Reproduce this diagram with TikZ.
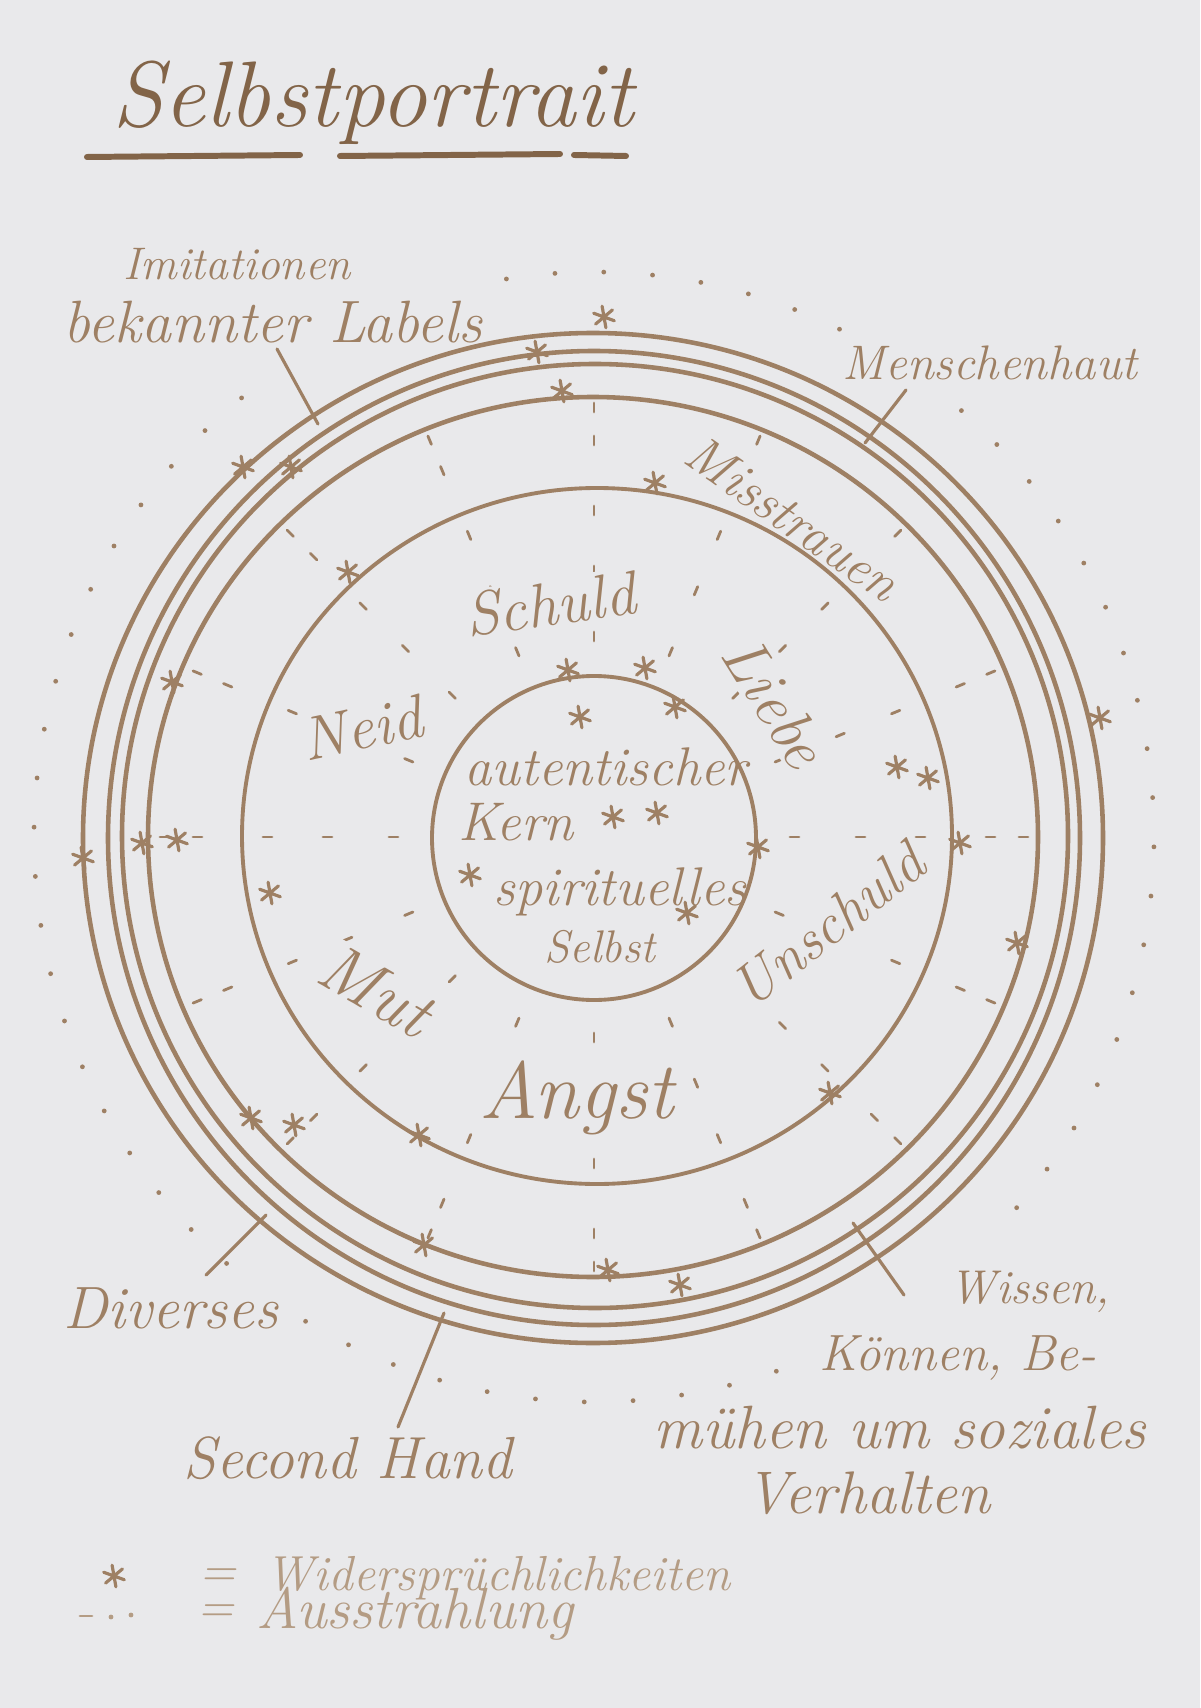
\documentclass[tikz,border=0pt]{standalone}
\usetikzlibrary{calc}
\definecolor{paper}{RGB}{233,233,235}
\definecolor{ink}{RGB}{158,128,100}
\definecolor{darkink}{RGB}{130,100,72}
\definecolor{paleink}{RGB}{180,156,132}
\newcommand{\hand}[1]{\fontsize{#1}{#1}\selectfont\itshape}
\newcommand{\stern}[2]{\draw [sternlinie] (#1,#2) +(20:11) -- +(200:11) +(80:11) -- +(260:11) +(140:11) -- +(320:11);}
\tikzstyle{schrift} = [text=ink, inner sep=1pt, fill=paper]
\tikzstyle{legende} = [text=paleink, inner sep=0pt]
\tikzstyle{ring} = [draw=ink, line width=1.3pt]
\tikzstyle{innenring} = [draw=ink, line width=1.1pt]
\tikzstyle{zeiger} = [draw=ink, line width=0.9pt, line cap=round]
\tikzstyle{strahl} = [draw=ink, line width=0.8pt, line cap=round]
\tikzstyle{sternlinie} = [draw=ink, line width=0.9pt, line cap=round]
\tikzstyle{punkt} = [fill=ink]

\begin{document}
\begin{tikzpicture}[x=0.1mm, y=-0.1mm]
  \fill [paper] (0,0) rectangle (1200,1708);
  \coordinate (mitte) at (594,837);

  % Ausstrahlung
  \foreach \a in {-90,-67.5,...,247.5}
    \foreach \r in {196,262,322,392,425}
      \draw [strahl] ($(mitte)+(\a:\r)$) -- ($(mitte)+(\a:\r+9)$);
  \foreach \a in {-99,-94,...,44}
    \fill [punkt] ($(mitte)+(\a:560 and 565)$) circle [radius=2.4];
  \foreach \a in {66,71,...,231}
    \fill [punkt] ($(mitte)+(\a:560 and 565)$) circle [radius=2.4];

  % Beschriftung
  \node (titel) [schrift, text=darkink, anchor=base, font=\hand{26.5}] at (373,127) {Selbstportrait};
  \node (imit1) [schrift, anchor=base, font=\hand{13}] at (237,280) {Imitationen};
  \node (imit2) [schrift, anchor=base, font=\hand{17}] at (273,343) {bekannter Labels};
  \node (haut) [schrift, anchor=base, font=\hand{13.8}] at (990,380) {Menschenhaut};
  \node (miss) [schrift, rotate=-35, font=\hand{15}] at (793,518) {Misstrauen};
  \node (schuld) [schrift, anchor=base, rotate=8, font=\hand{17.5}] at (553,625) {Schuld};
  \node (neid) [schrift, rotate=12, font=\hand{17.5}] at (362,728) {Neid};
  \node (liebe) [schrift, rotate=-58, font=\hand{18}] at (775,702) {Liebe};
  \node (aut) [schrift, anchor=base, font=\hand{15.5}] at (606,785) {autentischer};
  \node (kern) [schrift, anchor=base, font=\hand{15.5}] at (516,840) {Kern};
  \node (spir) [schrift, anchor=base, font=\hand{15.5}] at (620,905) {spirituelles};
  \node (selbst) [schrift, anchor=base, font=\hand{13}] at (600,962) {Selbst};
  \node (unschuld) [schrift, rotate=38, font=\hand{16.5}] at (828,925) {Unschuld};
  \node (mut) [schrift, rotate=-30, font=\hand{19.5}] at (376,990) {Mut};
  \node (angst) [schrift, anchor=base, font=\hand{23}] at (577,1118) {Angst};
  \node (div) [schrift, anchor=base, font=\hand{17}] at (171,1328) {Diverses};
  \node (second) [schrift, anchor=base, font=\hand{16.9}] at (348,1478) {Second Hand};
  \node (wissen) [schrift, anchor=base, font=\hand{13.5}] at (1030,1303) {Wissen,};
  \node (koennen) [schrift, anchor=base, font=\hand{14.5}] at (958,1370) {Können, Be-};
  \node (muehen) [schrift, anchor=base, font=\hand{17.4}] at (900,1448) {mühen um soziales};
  \node (verh) [schrift, anchor=base, font=\hand{17.1}] at (868,1513) {Verhalten};

  % Ringe
  \draw [innenring] (594,838) circle [radius=162];
  \draw [innenring] (597,836) ellipse [x radius=355, y radius=348];
  \draw [ring] (593,837) ellipse [x radius=445, y radius=440];
  \draw [ring] (595,836) ellipse [x radius=473, y radius=472];
  \draw [ring] (594,838) ellipse [x radius=486, y radius=487];
  \draw [ring] (593,838) ellipse [x radius=510, y radius=505];

  % Unterstrich
  \draw [darkink, line width=1.7pt, line cap=round] (87,157) -- (300,155) (340,156) -- (560,154) (574,155) -- (626,156);

  % Widersprueche
  \foreach \x/\y in {604/317, 537/352, 562/391, 243/467, 291/467, 655/483, 348/572,
                     172/682, 83/858, 142/843, 177/840, 270/893,
                     568/670, 645/668, 675/707, 580/717, 613/817, 657/813, 470/875, 687/913, 758/847,
                     1100/718, 897/767, 928/778, 960/843, 1017/943, 830/1093,
                     251/1118, 294/1125, 419/1135, 424/1245, 608/1270, 680/1285}
    {\stern{\x}{\y}}

  % Zeiger
  \coordinate (imitende) at (318,424);
  \coordinate (hautende) at (865,443);
  \coordinate (divende) at (266,1215);
  \coordinate (secondende) at (444,1313);
  \coordinate (wissenende) at (853,1223);
  \draw [zeiger] ($(imit2.base)+(4,6)$) -- (imitende);
  \draw [zeiger] ($(haut.base)+(-84,10)$) -- (hautende);
  \draw [zeiger] ($(div.base)+(35,-53)$) -- (divende);
  \draw [zeiger] ($(second.base)+(50,-51)$) -- (secondende);
  \draw [zeiger] ($(wissen.base)+(-126,-8)$) -- (wissenende);

  % Legende
  \stern{114}{1576}
  \node (gleich1) [legende, anchor=base, font=\hand{14}] at (218,1586) {=};
  \node (leg1) [legende, anchor=base west, font=\hand{14}] at (265,1590) {Widersprüchlichkeiten};
  \draw [strahl, draw=paleink] (80,1616) -- (92,1616);
  \fill [paleink] (111,1617) circle [radius=2.4] (131,1615) circle [radius=2.4];
  \node (gleich2) [legende, anchor=base, font=\hand{14}] at (216,1622) {=};
  \node (leg2) [legende, anchor=base west, font=\hand{16.5}] at (256,1628) {Ausstrahlung};
\end{tikzpicture}
\end{document}
